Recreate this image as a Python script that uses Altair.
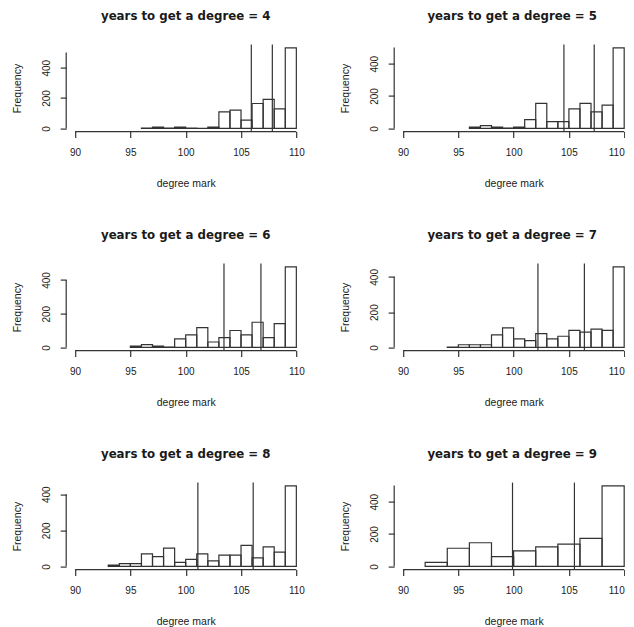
import altair as alt
import pandas as pd

# ---------------- data ----------------
years = [4, 5, 6, 7, 8, 9]
bin_start = [96, 96, 95, 94, 93, 92]
bin_width = [1, 1, 1, 1, 1, 2]

counts_4 = [2, 8, 2, 8, 2, 0, 8, 109, 120, 55, 164, 191, 129, 531]
counts_5 = [8, 17, 8, 2, 8, 54, 154, 42, 42, 121, 154, 102, 144, 498]
counts_6 = [8, 16, 8, 2, 50, 74, 117, 32, 58, 100, 74, 149, 58, 141, 478]
counts_7 = [2, 15, 15, 15, 71, 111, 48, 38, 78, 48, 63, 96, 86, 103, 96, 457]
counts_8 = [7, 15, 15, 69, 54, 101, 22, 39, 69, 30, 62, 62, 116, 47, 108, 79, 447]
counts_9 = [25, 112, 146, 60, 96, 121, 137, 173, 498]
all_counts = [counts_4, counts_5, counts_6, counts_7, counts_8, counts_9]

lines_lo = [105.93, 104.55, 103.46, 102.2, 101.1, 99.9]
lines_hi = [107.83, 107.29, 106.8, 106.4, 106.1, 105.5]

x_ticks = [90, 95, 100, 105, 110]
X_MIN, X_MAX = 89.2, 110.8
X_MAX_RIGHT = 110.0   # right-hand column is cut at the page edge in the reference

# ---------------- style ----------------
FONT = "Liberation Sans"
TITLE_FONT = "DejaVu Sans"
LINE = "#333333"
TEXT = "#1a1a1a"
SW = 1.2
W, H = 239, 87
W_RIGHT = 230


def panel(year, start, width, counts, v1, v2, right):
    ymax = max(counts)
    lo, hi = -0.04 * ymax, 1.04 * ymax
    top_tick = int(hi // 100) * 100
    y_ticks = list(range(0, top_tick + 1, 100))
    xmax = X_MAX_RIGHT if right else X_MAX
    pw = W_RIGHT if right else W

    bars = pd.DataFrame({
        "x0": [start + i * width for i in range(len(counts))],
        "x1": [start + (i + 1) * width for i in range(len(counts))],
        "base": [0] * len(counts),
        "n": counts,
    })
    xs = alt.Scale(domain=[X_MIN, xmax], nice=False, zero=False)
    ys = alt.Scale(domain=[lo, hi], nice=False, zero=False)

    x_axis_kw = dict(values=x_ticks, title="degree mark", labelOverlap=False,
                     labelPadding=10, titlePadding=21)
    if right:
        x_axis_kw.update(labelFlush=1, titleX=119.5)
    else:
        x_axis_kw.update(labelFlush=False)

    hist = alt.Chart(bars).mark_rect(
        filled=False, stroke=LINE, strokeWidth=SW
    ).encode(
        x=alt.X("x0:Q", scale=xs, axis=alt.Axis(**x_axis_kw)),
        x2="x1:Q",
        y=alt.Y("base:Q", scale=ys, axis=alt.Axis(
            values=y_ticks, title="Frequency", labelAngle=270,
            labelAlign="center", labelBaseline="bottom",
            labelExpr="datum.value % 200 == 0 ? datum.label : ''",
            labelFlush=False, labelOverlap=False,
            labelPadding=9, titlePadding=18.6)),
        y2="n:Q",
    )

    vdf = pd.DataFrame({"v": [v1, v2], "lo": [lo, lo], "hi": [hi, hi]})
    vlines = alt.Chart(vdf).mark_rule(color=LINE, strokeWidth=SW).encode(
        x=alt.X("v:Q", scale=xs), y=alt.Y("lo:Q", scale=ys), y2="hi:Q")

    xdf = pd.DataFrame({"a": [x_ticks[0]], "b": [x_ticks[-1]], "y": [lo]})
    xaxis = alt.Chart(xdf).mark_rule(color=LINE, strokeWidth=SW).encode(
        x=alt.X("a:Q", scale=xs), x2="b:Q", y=alt.Y("y:Q", scale=ys))

    ydf = pd.DataFrame({"x": [X_MIN], "a": [0], "b": [top_tick]})
    yaxis = alt.Chart(ydf).mark_rule(color=LINE, strokeWidth=SW).encode(
        x=alt.X("x:Q", scale=xs), y=alt.Y("a:Q", scale=ys), y2="b:Q")

    return alt.layer(hist, vlines, xaxis, yaxis).properties(
        width=pw, height=H,
        title=alt.TitleParams(
            f"years to get a degree = {year}", font=TITLE_FONT, fontSize=11.8,
            fontWeight="bold", color=TEXT, anchor="middle", frame="group",
            baseline="bottom", offset=10, dx=3 if right else 0),
    )


panels = [
    panel(y, s, w, c, a, b, i % 2 == 1)
    for i, (y, s, w, c, a, b) in enumerate(
        zip(years, bin_start, bin_width, all_counts, lines_lo, lines_hi))
]

chart = alt.concat(*panels, columns=2, spacing={"row": 40, "column": 35}).properties(
    padding={"left": 4.2, "top": 2.6, "right": 0, "bottom": 0}
).configure_view(stroke=None).configure_axis(
    domain=False, grid=False, ticks=True, tickSize=6, tickColor=LINE,
    tickWidth=SW, labelFont=FONT, labelFontSize=10, labelColor=TEXT,
    titleFont=FONT, titleFontSize=10.5, titleFontWeight="normal", titleColor=TEXT,
)

chart.save("out.html", embed_options={"renderer": "svg", "actions": False})
